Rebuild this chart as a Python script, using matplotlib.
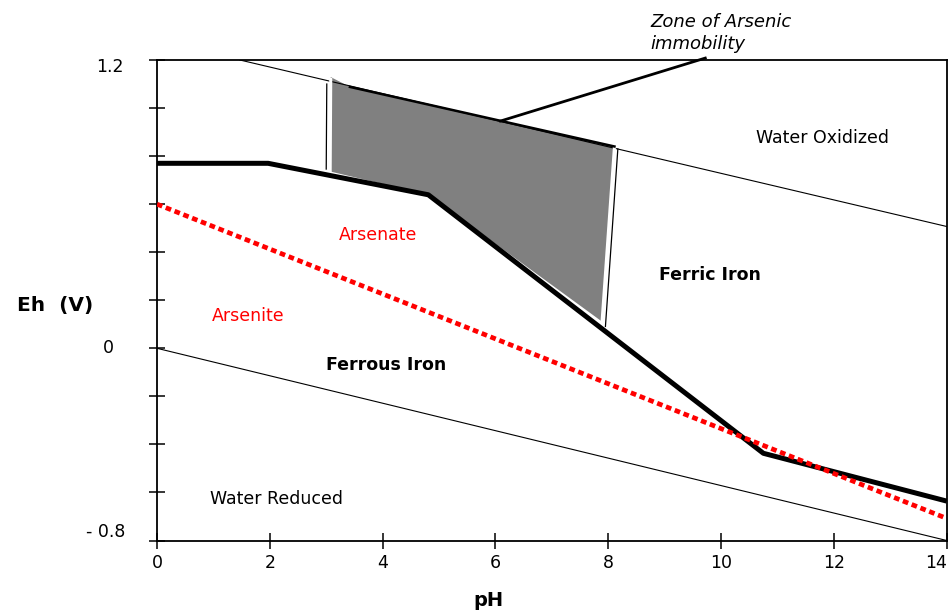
import matplotlib
matplotlib.use("Agg")
import matplotlib.pyplot as plt
from matplotlib.patches import Polygon

plt.rcParams["font.family"] = ["DejaVu Sans"]

# boundaries (pH, Eh in V)
water_ox_ph = [1.47, 14.0]
water_ox_eh = [1.2, 0.507]
water_red_ph = [0.0, 14.0]
water_red_eh = [0.0, -0.8]
iron_ph = [0.0, 1.97, 4.81, 10.75, 14.0]
iron_eh = [0.77, 0.77, 0.639, -0.437, -0.636]
arsenic_ph = [0.0, 14.0]
arsenic_eh = [0.60, -0.708]
zone_ph = [3.08, 3.42, 8.11, 7.89, 4.81, 3.07]
zone_eh = [1.129, 1.088, 0.84, 0.111, 0.639, 0.736]

fig = plt.figure(figsize=(9.51, 6.12), dpi=100)
ax = fig.add_axes([157 / 951, 1 - 540.5 / 612, (946.7 - 157) / 951, (540.5 - 60) / 612])
ax.set_xlim(0, 14)
ax.set_ylim(-0.8, 1.2)

# zone of arsenic immobility
ax.add_patch(Polygon(list(zip(zone_ph, zone_eh)), closed=True, facecolor="#808080",
                     edgecolor="none", zorder=2))
# white/black double edges on the sides
ax.plot([zone_ph[0], zone_ph[5]], [zone_eh[0] - 0.01, zone_eh[5]], color="white", lw=2.2, zorder=3)
ax.plot([zone_ph[0] - 0.07, zone_ph[5] - 0.07], [1.10, zone_eh[5] + 0.01], color="black", lw=0.9, zorder=3)
ax.plot([zone_ph[2], zone_ph[3]], [zone_eh[2], zone_eh[3]], color="white", lw=2.2, zorder=3)
ax.plot([zone_ph[2] + 0.06, zone_ph[3] + 0.06], [zone_eh[2] - 0.01, zone_eh[3] - 0.02], color="black", lw=0.9, zorder=3)
ax.plot(zone_ph[1:3], zone_eh[1:3], color="black", lw=1.8, zorder=3)

# water stability lines
ax.plot(water_ox_ph, water_ox_eh, color="black", lw=0.8, zorder=2)
ax.plot(water_red_ph, water_red_eh, color="black", lw=0.8, zorder=2)

# iron and arsenic boundaries
ax.plot(iron_ph, iron_eh, color="black", lw=3.6, zorder=4, solid_capstyle="butt")
ax.plot(arsenic_ph, arsenic_eh, color="red", lw=3.4, linestyle=(0, (1.2, 0.8)), zorder=5)

# pointer to the zone label
ax.plot([6.09, 9.72], [0.946, 1.208], color="black", lw=2.0, clip_on=False, zorder=6)
fig.text(650 / 951, 1 - 22 / 612, "Zone of Arsenic", fontsize=13, style="italic", va="center", ha="left")
fig.text(650 / 951, 1 - 44 / 612, "immobility", fontsize=13, style="italic", va="center", ha="left")

# region labels
ax.text(11.8, 0.876, "Water Oxidized", fontsize=12.5, ha="center", va="center")
ax.text(3.92, 0.472, "Arsenate", fontsize=12.5, color="red", ha="center", va="center")
ax.text(9.81, 0.305, "Ferric Iron", fontsize=12.5, fontweight="bold", ha="center", va="center")
ax.text(1.61, 0.135, "Arsenite", fontsize=12.5, color="red", ha="center", va="center")
ax.text(4.06, -0.07, "Ferrous Iron", fontsize=12.5, fontweight="bold", ha="center", va="center")
ax.text(2.11, -0.629, "Water Reduced", fontsize=12.5, ha="center", va="center")

# axes styling
for s in ax.spines.values():
    s.set_linewidth(1.3)
ax.set_xticks(range(0, 15, 2))
ax.set_yticks([-0.8 + 0.2 * i for i in range(11)])
ax.set_yticklabels([])
ax.tick_params(axis="both", direction="inout", length=11, width=1.1, labelsize=12.5)
ax.tick_params(axis="x", pad=4)
ax.get_xticklabels()[-1].set_horizontalalignment("right")

fig.text(124 / 951, 1 - 67 / 612, "1.2", fontsize=12.5, ha="right", va="center")
fig.text(114 / 951, 1 - 348 / 612, "0", fontsize=12.5, ha="right", va="center")
fig.text(125 / 951, 1 - 532 / 612, "- 0.8", fontsize=12.5, ha="right", va="center")
fig.text(55 / 951, 1 - 305 / 612, "Eh  (V)", fontsize=14.5, fontweight="bold", ha="center", va="center")
fig.text(488 / 951, 1 - 601 / 612, "pH", fontsize=14, fontweight="bold", ha="center", va="center")

fig.savefig("out.png", dpi=100)
